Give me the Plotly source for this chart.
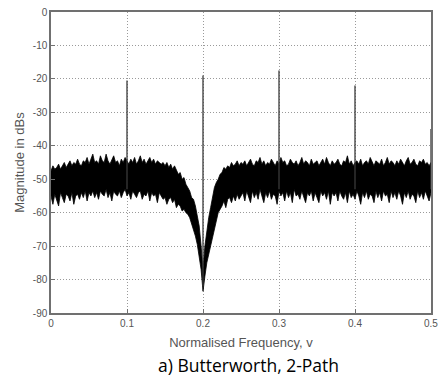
import plotly.graph_objects as go

# Magnitude response, sampled every 0.0025 in normalised frequency (0 .. 0.5).
# The noise floor is described by its upper and lower envelopes (dB).
upper_left = [
    -47.5, -46.0, -47.0, -46.5, -45.5, -47.0, -46.0, -45.0, -46.5, -45.5,
    -44.5, -46.0, -45.0, -45.5, -44.0, -45.5, -46.0, -44.5, -45.0, -43.5,
    -45.5, -44.0, -42.5, -45.0, -44.5, -45.5, -43.0, -44.5, -45.0, -42.5,
    -44.5, -45.5, -44.0, -43.0, -45.0, -44.5, -46.0, -44.0, -45.0, -43.5,
    -44.5, -45.5, -44.0, -45.0, -43.5, -45.5, -44.5, -43.0, -45.0, -44.0,
    -45.5, -44.5, -43.5, -45.0, -44.0, -45.5, -44.5, -45.0, -45.5, -45.0,
]
upper_notch = [
    -46.0, -45.0, -46.5, -45.5, -47.0, -46.0, -47.5, -48.5, -48.0, -50.0,
    -49.5, -51.5, -52.5, -53.5, -55.5, -56.0, -58.0, -60.5, -64.0, -70.0,
    -77.0, -70.0, -65.0, -61.5, -58.5, -55.5, -52.5, -51.0, -50.0, -48.5,
    -48.0, -46.5, -47.0, -46.0, -46.5, -45.0, -46.0, -45.5, -44.5, -46.0,
    -45.0,
]
upper_right = [
    -45.5, -44.5, -46.0, -45.0, -44.0, -45.5, -46.0, -44.5, -45.0, -43.5,
    -45.5, -44.5, -46.0, -45.0, -45.5, -44.0, -45.0, -46.0, -44.5, -45.5,
    -43.5, -45.0, -44.5, -46.0, -45.5, -44.0, -45.0, -45.5, -44.5, -46.0,
    -45.0, -43.5, -45.5, -44.5, -45.0, -46.0, -44.0, -45.5, -45.0, -44.5,
    -46.0, -45.0, -44.0, -45.5, -43.5, -45.0, -46.0, -44.5, -45.5, -45.0,
    -44.0, -45.5, -46.0, -44.5, -45.0, -43.0, -45.5, -44.5, -46.0, -45.0,
    -44.5, -45.5, -44.0, -46.0, -45.0, -44.5, -45.5, -43.5, -45.0, -46.0,
    -44.5, -45.0, -45.5, -44.0, -46.0, -45.0, -43.5, -45.5, -44.5, -45.0,
    -46.0, -44.5, -45.5, -44.0, -45.0, -46.0, -44.5, -43.5, -45.5, -45.0,
    -44.0, -45.5, -46.0, -44.5, -45.0, -44.0, -45.5, -45.0, -46.0, -45.0,
]

lower_left = [
    -55.0, -57.5, -54.5, -56.0, -58.0, -54.0, -55.5, -57.0, -54.5, -55.0,
    -56.5, -54.0, -57.5, -55.0, -54.5, -56.0, -54.0, -55.5, -53.5, -56.5,
    -54.0, -55.0, -53.5, -55.5, -54.0, -56.0, -53.5, -54.5, -55.0, -53.0,
    -55.5, -54.0, -56.5, -53.5, -54.5, -55.0, -53.5, -55.5, -54.0, -53.0,
    -55.0, -54.0, -56.0, -53.5, -54.5, -55.5, -54.0, -53.5, -56.0, -54.5,
    -55.0, -53.5, -56.5, -54.0, -55.0, -54.5, -57.0, -54.0, -55.0, -56.0,
]
lower_notch = [
    -55.5, -57.5, -56.0, -55.5, -57.0, -56.0, -58.5, -57.5, -58.0, -59.5,
    -59.0, -60.0, -60.5, -61.5, -63.0, -65.0, -67.0, -69.5, -72.5, -77.0,
    -83.5, -79.0, -75.0, -72.5, -70.5, -68.0, -65.0, -62.5, -60.0, -59.0,
    -58.0, -56.5, -58.5, -56.0, -55.5, -57.0, -55.0, -56.5, -54.5, -56.0,
    -55.0,
]
lower_right = [
    -54.0, -56.5, -53.5, -55.0, -57.0, -53.5, -55.5, -54.0, -56.0, -53.0,
    -55.0, -57.0, -54.0, -55.5, -53.5, -56.0, -54.5, -55.0, -57.5, -53.5,
    -55.0, -54.0, -56.5, -53.5, -55.5, -54.0, -57.0, -53.0, -55.0, -54.5,
    -56.0, -53.5, -55.5, -57.0, -54.0, -55.0, -53.5, -56.5, -54.0, -55.5,
    -57.0, -53.5, -55.0, -54.0, -56.0, -53.5, -57.5, -54.0, -55.0, -54.0,
    -56.5, -53.5, -55.0, -56.0, -54.0, -57.0, -53.5, -55.5, -54.5, -56.0,
    -53.5, -55.0, -57.5, -54.0, -55.5, -53.5, -56.0, -54.5, -55.0, -57.0,
    -53.5, -55.5, -54.0, -56.5, -53.5, -55.0, -54.5, -57.0, -53.5, -55.5,
    -54.0, -56.0, -53.5, -55.0, -57.5, -54.0, -55.5, -53.5, -56.0, -54.5,
    -55.0, -57.0, -53.5, -55.5, -54.0, -56.0, -53.5, -55.0, -56.5, -54.0,
]

# Spurious tones standing above the noise floor
spike_freq = [0.1, 0.2, 0.3, 0.4, 0.5]
spike_db = [-20.5, -19.0, -17.5, -22.0, -35.0]
spike_floor = [-53.0, -82.0, -53.0, -53.0, -53.0]

x_ticks = [0, 0.1, 0.2, 0.3, 0.4, 0.5]
x_tick_text = ["0", "0.1", "0.2", "0.3", "0.4", "0.5"]
y_ticks = [0, -10, -20, -30, -40, -50, -60, -70, -80, -90]
y_tick_text = ["0", "-10", "-20", "-30", "-40", "-50", "-60", "-70", "-80", "-90"]

upper_db = upper_left + upper_notch + upper_right
lower_db = lower_left + lower_notch + lower_right
freq = [round(i * 0.0025, 4) for i in range(len(upper_db))]

fig = go.Figure()

# Noise band as a closed polygon between the envelopes
fig.add_trace(go.Scatter(
    x=freq + freq[::-1],
    y=upper_db + lower_db[::-1],
    mode="lines",
    fill="toself",
    fillcolor="#000000",
    line=dict(color="#000000", width=0.8),
    hoverinfo="skip",
))

sx, sy = [], []
for f, top, bot in zip(spike_freq, spike_db, spike_floor):
    sx += [f, f, None]
    sy += [top, bot, None]
fig.add_trace(go.Scatter(
    x=sx, y=sy, mode="lines",
    line=dict(color="#3a3a3a", width=1.3),
    hoverinfo="skip",
))

tick_font = dict(family="Liberation Sans, Arial", size=10, color="#555555")
title_font = dict(family="Liberation Sans, Arial", size=13, color="#555555")
axis_common = dict(
    showline=True, mirror=True, linecolor="#707070", linewidth=1.5,
    ticks="inside", ticklen=4, tickcolor="#707070",
    showgrid=True, gridcolor="#9a9a9a", gridwidth=1, griddash="1px,2px",
    zeroline=False, tickfont=tick_font,
)

fig.update_xaxes(
    range=[0, 0.5], tickvals=x_ticks[:-1], ticktext=x_tick_text[:-1],
    title=dict(text="Normalised Frequency, v", standoff=10, font=title_font),
    **axis_common,
)
fig.update_yaxes(
    range=[-90, 0], tickvals=y_ticks, ticktext=y_tick_text,
    title=dict(text="Magnitude in dBs", standoff=5, font=title_font),
    **axis_common,
)

# Last x tick label sits on the right edge of the page
fig.add_annotation(
    text=x_tick_text[-1], xref="x", yref="paper",
    x=x_ticks[-1], y=0, yshift=-3, xanchor="center", yanchor="top",
    showarrow=False, font=tick_font,
)

fig.add_annotation(
    text="a) Butterworth, 2-Path", xref="paper", yref="paper",
    x=0.52, y=-0.173, xanchor="center", yanchor="middle", showarrow=False,
    font=dict(family="Open Sans", size=17.5, color="#000000"),
)

fig.update_layout(
    width=438, height=381,
    margin=dict(l=51, r=5, t=12, b=68),
    plot_bgcolor="#ffffff", paper_bgcolor="#ffffff",
    showlegend=False,
)

fig.write_html("out.html")
